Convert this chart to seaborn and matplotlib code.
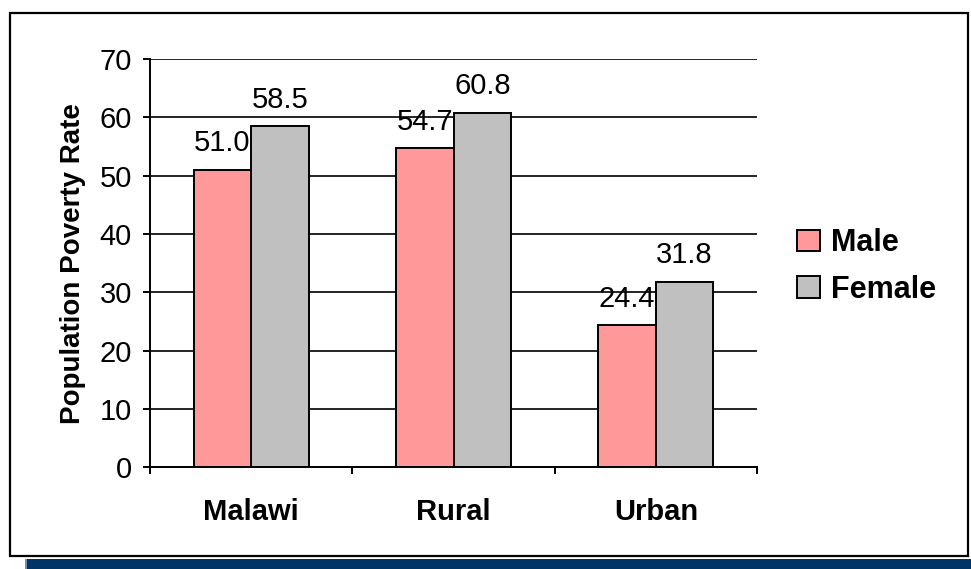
import pandas as pd
import matplotlib.pyplot as plt
import seaborn as sns
from matplotlib.patches import Rectangle
from matplotlib.ticker import MultipleLocator, FixedLocator

# Poverty rates by area and sex
areas = ['Malawi', 'Rural', 'Urban']
male = [51.0, 54.7, 24.4]
female = [58.5, 60.8, 31.8]
sexes = ['Male', 'Female']
colors = ['#FF9999', '#C0C0C0']

df = pd.DataFrame({
    'Area': areas * 2,
    'Sex': ['Male'] * 3 + ['Female'] * 3,
    'Rate': male + female,
})

sns.set_style('white')
plt.rcParams['font.family'] = ['Liberation Sans', 'DejaVu Sans']
plt.rcParams['text.color'] = 'black'
plt.rcParams['axes.labelcolor'] = 'black'
plt.rcParams['xtick.color'] = 'black'
plt.rcParams['ytick.color'] = 'black'

fig = plt.figure(figsize=(9.71, 5.69), dpi=100)
ax = fig.add_axes([0.1545, 0.1784, 0.6251, 0.7179])

sns.barplot(data=df, x='Area', y='Rate', hue='Sex', hue_order=sexes,
            palette=colors, width=0.57, gap=0, edgecolor='black',
            linewidth=1.4, saturation=1, ax=ax, legend=True)

# value labels
for cont in ax.containers:
    ax.bar_label(cont, fmt='%.1f', padding=9, fontsize=21, color='black')

ax.set_ylim(0, 70)
ax.set_xlim(-0.5, 2.5)
ax.yaxis.set_major_locator(MultipleLocator(10))
ax.grid(axis='y', color='black', linewidth=1.2)
ax.set_axisbelow(True)
for s in ['top', 'right']:
    ax.spines[s].set_visible(False)
for s in ['left', 'bottom']:
    ax.spines[s].set_color('black')
    ax.spines[s].set_linewidth(1.4)

ax.tick_params(axis='y', length=5, width=1.4, direction='out', labelsize=21, pad=8, left=True)
ax.tick_params(axis='x', which='major', length=0, pad=22, labelsize=21)
ax.xaxis.set_minor_locator(FixedLocator([-0.5, 0.5, 1.5, 2.5]))
ax.tick_params(axis='x', which='minor', length=5, width=1.4, direction='out', bottom=True)
for lbl in ax.get_xticklabels():
    lbl.set_fontweight('bold')

ax.set_xlabel('')
ax.set_ylabel('Population Poverty Rate', fontsize=20, fontweight='bold', labelpad=10)

leg = ax.legend(loc='center left', bbox_to_anchor=(0.805, 0.532),
                bbox_transform=fig.transFigure, frameon=False, borderpad=0,
                prop={'size': 22, 'weight': 'bold'},
                handlelength=0.75, handleheight=0.7, handletextpad=0.35,
                labelspacing=0.55)
for h in leg.legend_handles:
    h.set_edgecolor('black')
    h.set_linewidth(1.4)
for t in leg.get_texts():
    t.set_color('black')

# outer frame and blue strip at bottom
fig.patches.append(Rectangle((0.0103, 0.0228), 0.9866, 0.9543, transform=fig.transFigure,
                             fill=False, edgecolor='black', linewidth=1.6))
fig.patches.append(Rectangle((0.0278, 0.0), 0.9722, 0.0176, transform=fig.transFigure,
                             facecolor='#003366', edgecolor='none'))
fig.patches.append(Rectangle((0.0257, 0.0), 0.0021, 0.0176, transform=fig.transFigure,
                             facecolor='#6F8FB8', edgecolor='none'))

fig.savefig('out.png', dpi=100)
